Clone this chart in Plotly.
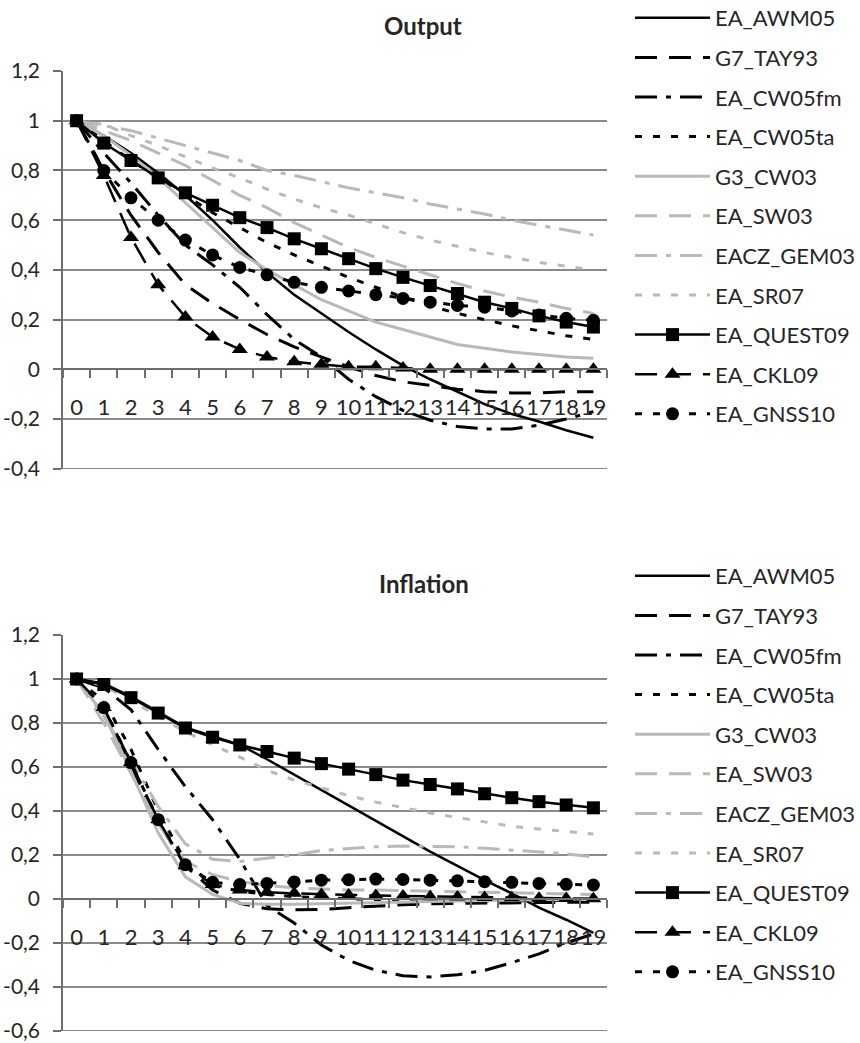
import plotly.graph_objects as go

# ---------------- data ----------------
periods = ["0", "1", "2", "3", "4", "5", "6", "7", "8", "9",
           "10", "11", "12", "13", "14", "15", "16", "17", "18", "19"]

series_names = ["EA_AWM05", "G7_TAY93", "EA_CW05fm", "EA_CW05ta", "G3_CW03",
                "EA_SW03", "EACZ_GEM03", "EA_SR07", "EA_QUEST09", "EA_CKL09", "EA_GNSS10"]

# Output responses
out_awm05 = [1, 0.94, 0.87, 0.79, 0.70, 0.60, 0.49, 0.39, 0.30, 0.225, 0.15, 0.08, 0.015, -0.04, -0.09, -0.14, -0.18, -0.21, -0.245, -0.275]
out_tay93 = [1, 0.80, 0.62, 0.47, 0.34, 0.265, 0.20, 0.14, 0.09, 0.05, 0.01, -0.025, -0.05, -0.065, -0.08, -0.09, -0.095, -0.095, -0.09, -0.09]
out_cw05fm = [1, 0.87, 0.75, 0.62, 0.50, 0.42, 0.33, 0.22, 0.12, 0.05, -0.04, -0.11, -0.165, -0.205, -0.23, -0.24, -0.24, -0.225, -0.20, -0.17]
out_cw05ta = [1, 0.92, 0.84, 0.77, 0.70, 0.63, 0.57, 0.51, 0.46, 0.415, 0.37, 0.33, 0.29, 0.255, 0.225, 0.20, 0.175, 0.155, 0.135, 0.12]
out_g3cw03 = [1, 0.94, 0.86, 0.77, 0.67, 0.57, 0.47, 0.40, 0.34, 0.28, 0.235, 0.19, 0.16, 0.13, 0.10, 0.085, 0.07, 0.06, 0.05, 0.045]
out_sw03 = [1, 0.96, 0.92, 0.87, 0.82, 0.76, 0.70, 0.65, 0.59, 0.54, 0.49, 0.45, 0.415, 0.38, 0.345, 0.315, 0.29, 0.27, 0.245, 0.225]
out_gem03 = [1, 0.98, 0.96, 0.93, 0.90, 0.87, 0.84, 0.80, 0.78, 0.755, 0.73, 0.71, 0.69, 0.665, 0.645, 0.625, 0.60, 0.58, 0.56, 0.54]
out_sr07 = [1, 0.985, 0.94, 0.90, 0.855, 0.81, 0.77, 0.725, 0.685, 0.65, 0.62, 0.585, 0.55, 0.52, 0.495, 0.47, 0.45, 0.43, 0.415, 0.40]
out_quest09 = [1, 0.91, 0.84, 0.77, 0.71, 0.66, 0.61, 0.57, 0.525, 0.485, 0.445, 0.405, 0.37, 0.337, 0.305, 0.27, 0.245, 0.215, 0.19, 0.17]
out_ckl09 = [1, 0.78, 0.53, 0.34, 0.21, 0.13, 0.08, 0.05, 0.03, 0.02, 0.01, 0.01, 0.005, 0, 0, 0, 0, 0, 0, 0]
out_gnss10 = [1, 0.80, 0.69, 0.60, 0.52, 0.46, 0.41, 0.38, 0.35, 0.33, 0.315, 0.30, 0.285, 0.27, 0.257, 0.25, 0.235, 0.218, 0.205, 0.197]

# Inflation responses
inf_awm05 = [1, 0.98, 0.92, 0.85, 0.78, 0.74, 0.70, 0.635, 0.565, 0.495, 0.425, 0.355, 0.285, 0.215, 0.15, 0.085, 0.025, -0.04, -0.095, -0.155]
inf_tay93 = [1, 0.85, 0.60, 0.35, 0.15, 0.04, -0.02, -0.045, -0.05, -0.048, -0.04, -0.032, -0.027, -0.022, -0.02, -0.018, -0.017, -0.017, -0.016, -0.015]
inf_cw05fm = [1, 0.96, 0.86, 0.68, 0.51, 0.36, 0.18, -0.03, -0.11, -0.21, -0.28, -0.325, -0.35, -0.355, -0.345, -0.325, -0.29, -0.25, -0.20, -0.16]
inf_cw05ta = [1, 0.90, 0.68, 0.40, 0.17, 0.06, 0.035, 0.02, 0.01, 0.005, 0.0, -0.005, -0.008, -0.01, -0.01, -0.01, -0.01, -0.008, -0.006, -0.005]
inf_g3cw03 = [1, 0.84, 0.58, 0.30, 0.10, 0.02, -0.02, -0.025, -0.025, -0.022, -0.02, -0.018, -0.015, -0.012, -0.01, -0.008, -0.006, -0.004, -0.002, 0.0]
inf_sw03 = [1, 0.80, 0.57, 0.34, 0.17, 0.11, 0.08, 0.06, 0.05, 0.045, 0.04, 0.04, 0.038, 0.035, 0.033, 0.03, 0.028, 0.025, 0.022, 0.02]
inf_gem03 = [1, 0.83, 0.63, 0.42, 0.25, 0.18, 0.17, 0.185, 0.20, 0.22, 0.23, 0.237, 0.24, 0.24, 0.237, 0.23, 0.222, 0.215, 0.205, 0.19]
inf_sr07 = [1, 0.97, 0.90, 0.83, 0.76, 0.70, 0.645, 0.585, 0.54, 0.505, 0.47, 0.44, 0.415, 0.39, 0.37, 0.35, 0.33, 0.318, 0.305, 0.295]
inf_quest09 = [1, 0.975, 0.915, 0.845, 0.777, 0.735, 0.70, 0.67, 0.64, 0.615, 0.59, 0.565, 0.54, 0.52, 0.50, 0.478, 0.46, 0.442, 0.427, 0.414]
inf_ckl09 = [1, 0.87, 0.62, 0.36, 0.15, 0.065, 0.04, 0.03, 0.025, 0.02, 0.018, 0.015, 0.013, 0.01, 0.008, 0.006, 0.005, 0.003, 0.002, 0.0]
inf_gnss10 = [1, 0.87, 0.62, 0.36, 0.155, 0.075, 0.065, 0.07, 0.077, 0.085, 0.087, 0.09, 0.088, 0.085, 0.082, 0.078, 0.075, 0.07, 0.066, 0.063]

output_values = [out_awm05, out_tay93, out_cw05fm, out_cw05ta, out_g3cw03, out_sw03,
                 out_gem03, out_sr07, out_quest09, out_ckl09, out_gnss10]
inflation_values = [inf_awm05, inf_tay93, inf_cw05fm, inf_cw05ta, inf_g3cw03, inf_sw03,
                    inf_gem03, inf_sr07, inf_quest09, inf_ckl09, inf_gnss10]

out_yticks = [1.2, 1.0, 0.8, 0.6, 0.4, 0.2, 0.0, -0.2, -0.4]
out_yticklabels = ["1,2", "1", "0,8", "0,6", "0,4", "0,2", "0", "-0,2", "-0,4"]
inf_yticks = [1.2, 1.0, 0.8, 0.6, 0.4, 0.2, 0.0, -0.2, -0.4, -0.6]
inf_yticklabels = ["1,2", "1", "0,8", "0,6", "0,4", "0,2", "0", "-0,2", "-0,4", "-0,6"]

panel_titles = ["Output", "Inflation"]

# ---------------- styles ----------------
BLACK = "#000000"
GRAY = "#b9b9b9"
GRID = "#8a8a8a"
LONGDASH = "22px,12px"
LONGDASHDOT = "22px,9px,5px,9px"
SQDOT = "7px,11px"
styles = [
    dict(color=BLACK, width=2.5, dash="solid", symbol=None, size=0),
    dict(color=BLACK, width=3, dash=LONGDASH, symbol=None, size=0),
    dict(color=BLACK, width=3, dash=LONGDASHDOT, symbol=None, size=0),
    dict(color=BLACK, width=3, dash=SQDOT, symbol=None, size=0),
    dict(color=GRAY, width=3, dash="solid", symbol=None, size=0),
    dict(color=GRAY, width=3, dash=LONGDASH, symbol=None, size=0),
    dict(color=GRAY, width=3, dash=LONGDASHDOT, symbol=None, size=0),
    dict(color=GRAY, width=3, dash=SQDOT, symbol=None, size=0),
    dict(color=BLACK, width=2.5, dash="solid", symbol="square", size=13),
    dict(color=BLACK, width=2.5, dash=LONGDASH, symbol="triangle-up", size=14),
    dict(color=BLACK, width=3, dash=SQDOT, symbol="circle", size=13),
]

FONT = "Lato, Carlito, Calibri, sans-serif"
TEXT = "#262626"
W, H = 860, 1043

fig = go.Figure()
panels = [("x", "y", "legend", output_values), ("x2", "y2", "legend2", inflation_values)]
for pi, (xa, ya, lg, vals) in enumerate(panels):
    for name, v, st in zip(series_names, vals, styles):
        mode = "lines+markers" if st["symbol"] else "lines"
        tr = go.Scatter(
            x=periods, y=v, name=name, mode=mode,
            xaxis=xa, yaxis=ya, legend=lg,
            legendgroup=f"{lg}_{name}",
            line=dict(color=st["color"], width=st["width"], dash=st["dash"]),
            hoverinfo="skip",
        )
        if st["symbol"]:
            tr.marker = dict(symbol=st["symbol"], size=st["size"], color=st["color"],
                             line=dict(width=0))
        fig.add_trace(tr)


def px_x(p):
    return p / W


def px_y(p):
    return 1 - p / H


X0, X1 = 63, 607
geo = [  # top, bottom, zero pixel rows
    (71, 469, 369, [-0.401, 1.2], out_yticks, out_yticklabels),
    (635, 1031, 899, [-0.601, 1.2], inf_yticks, inf_yticklabels),
]

layout = dict(
    width=W, height=H, margin=dict(l=0, r=0, t=0, b=0, autoexpand=False),
    paper_bgcolor="white", plot_bgcolor="white",
    font=dict(family=FONT, color=TEXT, size=20),
    showlegend=True,
)
shapes = []
for i, (top, bot, zero, yr, tv, tt) in enumerate(geo):
    sfx = "" if i == 0 else "2"
    layout["xaxis" + sfx] = dict(
        domain=[px_x(X0), px_x(X1)], type="category",
        categoryorder="array", categoryarray=periods,
        range=[-0.5, 19.5], anchor="free", position=px_y(zero),
        showline=True, linecolor="#6e6e6e", linewidth=1.5,
        ticks="outside", tickson="boundaries", ticklen=8, tickcolor="#6e6e6e", tickwidth=1.5,
        tickmode="array", tickvals=periods, ticktext=periods, tickangle=0,
        tickfont=dict(size=22, family=FONT, color=TEXT),
        ticklabelstandoff=19, showgrid=False, zeroline=False, fixedrange=True,
    )
    layout["yaxis" + sfx] = dict(
        domain=[px_y(bot), px_y(top)], range=yr, anchor="x" + sfx,
        tickmode="array", tickvals=tv, ticktext=tt,
        showgrid=True, gridcolor=GRID, gridwidth=1.5,
        showline=True, linecolor="#6e6e6e", linewidth=1.5,
        ticks="outside", ticklen=8, tickcolor="#6e6e6e", tickwidth=1.5,
        tickfont=dict(size=21, family=FONT, color=TEXT),
        ticklabelstandoff=9, zeroline=False, fixedrange=True,
    )
    # bottom gridline (plotly omits the grid line at the very edge of the range)
    shapes.append(dict(type="line", xref=f"x{sfx} domain", yref=f"y{sfx}",
                       x0=0, x1=1, y0=tv[-1], y1=tv[-1],
                       line=dict(color=GRID, width=1.5), layer="below"))
layout["shapes"] = shapes

legend_common = dict(
    xanchor="left", yanchor="top", bgcolor="rgba(0,0,0,0)",
    font=dict(size=22, family=FONT, color=TEXT),
    itemwidth=75, tracegroupgap=8, itemclick=False, itemdoubleclick=False,
)
layout["legend"] = dict(legend_common, x=px_x(630), y=px_y(-3))
layout["legend2"] = dict(legend_common, x=px_x(630), y=px_y(555))

layout["annotations"] = [
    dict(text=f"<b>{panel_titles[0]}</b>", x=px_x(423), y=px_y(25), xref="paper", yref="paper",
         xanchor="center", yanchor="middle",
         showarrow=False, font=dict(size=24, family=FONT, color=TEXT)),
    dict(text=f"<b>{panel_titles[1]}</b>", x=px_x(424), y=px_y(583), xref="paper", yref="paper",
         xanchor="center", yanchor="middle",
         showarrow=False, font=dict(size=24, family=FONT, color=TEXT)),
]
fig.update_layout(**layout)
fig.write_html("out.html", config={"displayModeBar": False},
               post_script="document.body.style.margin='0';document.body.style.overflow='hidden';")
